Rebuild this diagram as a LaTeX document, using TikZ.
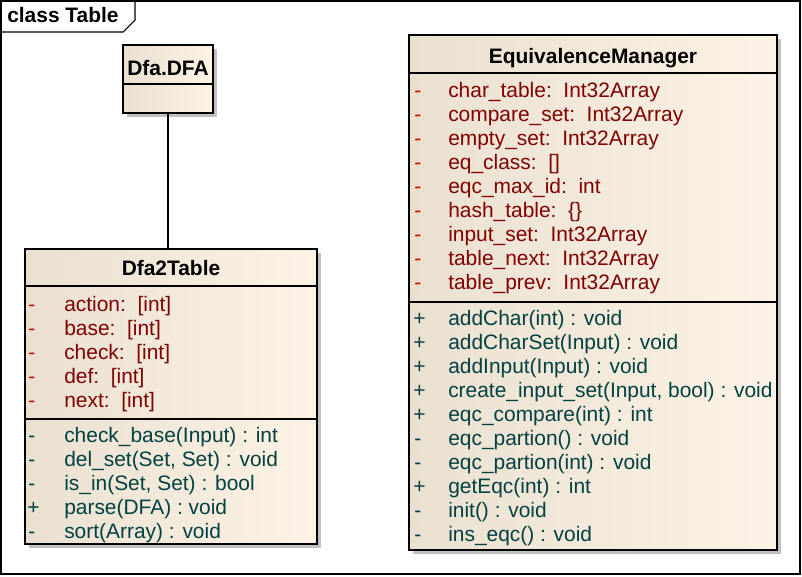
\documentclass[tikz,border=0pt]{standalone}
\usepackage{fontspec}
\setmainfont{Liberation Sans}
\usetikzlibrary{fit,shadows}
\definecolor{classleft}{RGB}{234,224,208}
\definecolor{classright}{RGB}{252,243,230}
\definecolor{boxshade}{RGB}{192,192,192}
\definecolor{attrtext}{RGB}{128,0,0}
\definecolor{attrvis}{RGB}{200,0,0}
\definecolor{optext}{RGB}{0,64,64}
\newcommand{\umlsize}{\fontsize{15.7}{18}\selectfont}

\tikzset{
  classbox/.style={draw, line width=0.8pt, inner sep=0pt, left color=classleft, right color=classright,
    drop shadow={shadow xshift=3pt, shadow yshift=-3pt, fill=boxshade, opacity=1}},
  classname/.style={anchor=base, inner sep=0pt, font=\umlsize\bfseries},
  visattr/.style={anchor=base west, inner sep=0pt, font=\umlsize, text=attrvis},
  attr/.style={anchor=base west, inner sep=0pt, font=\umlsize, text=attrtext},
  visop/.style={anchor=base west, inner sep=0pt, font=\umlsize, text=optext},
  op/.style={anchor=base west, inner sep=0pt, font=\umlsize, text=optext},
  sep/.style={line width=0.8pt}
}

\begin{document}
\begin{tikzpicture}[x=0.75pt,y=-0.75pt]
\useasboundingbox (0,0) rectangle (802,576);
% frame
\draw[line width=0.8pt] (1,1) rectangle (800,574);
\draw[line width=0.8pt] (1,32) -- (123,32) -- (135,20) -- (135,1);
\node[classname, anchor=base west] (frametitle) at (7,22) {class Table};

% Dfa.DFA
\node[classbox, fit={(123,45) (213,113)}] (dfa) {};
\draw[sep] (123,84) -- (213,84);
\node[classname] (dfaname) at (168,75) {Dfa.DFA};

% Dfa2Table
\node[classbox, fit={(25,249) (317,544)}] (dfatable) {};
\draw[sep] (25,286) -- (317,286);
\draw[sep] (25,419) -- (317,419);
\node[classname] (dfatablename) at (171,275) {Dfa2Table};
\node[visattr] (dtv1) at (28,311) {-}; \node[attr] (dta1) at (64,311) {action:\ \ [int]};
\node[visattr] (dtv2) at (28,335) {-}; \node[attr] (dta2) at (64,335) {base:\ \ [int]};
\node[visattr] (dtv3) at (28,359) {-}; \node[attr] (dta3) at (64,359) {check:\ \ [int]};
\node[visattr] (dtv4) at (28,383) {-}; \node[attr] (dta4) at (64,383) {def:\ \ [int]};
\node[visattr] (dtv5) at (28,407) {-}; \node[attr] (dta5) at (64,407) {next:\ \ [int]};
\node[visop] (dtw1) at (28,442) {-}; \node[op] (dto1) at (64,442) {check\_base(Input) : int};
\node[visop] (dtw2) at (28,466) {-}; \node[op] (dto2) at (64,466) {del\_set(Set, Set) : void};
\node[visop] (dtw3) at (28,490) {-}; \node[op] (dto3) at (64,490) {is\_in(Set, Set) : bool};
\node[visop] (dtw4) at (27,514) {+}; \node[op] (dto4) at (64,514) {parse(DFA) : void};
\node[visop] (dtw5) at (28,538) {-}; \node[op] (dto5) at (64,538) {sort(Array) : void};

% EquivalenceManager
\node[classbox, fit={(409,35) (777,550)}] (eqmgr) {};
\draw[sep] (409,73) -- (777,73);
\draw[sep] (409,302) -- (777,302);
\node[classname] (eqmgrname) at (593,63) {EquivalenceManager};
\node[visattr] (emv1) at (414,97) {-}; \node[attr] (ema1) at (448,97) {char\_table:\ \ Int32Array};
\node[visattr] (emv2) at (414,121) {-}; \node[attr] (ema2) at (448,121) {compare\_set:\ \ Int32Array};
\node[visattr] (emv3) at (414,145) {-}; \node[attr] (ema3) at (448,145) {empty\_set:\ \ Int32Array};
\node[visattr] (emv4) at (414,169) {-}; \node[attr] (ema4) at (448,169) {eq\_class:\ \ []};
\node[visattr] (emv5) at (414,193) {-}; \node[attr] (ema5) at (448,193) {eqc\_max\_id:\ \ int};
\node[visattr] (emv6) at (414,217) {-}; \node[attr] (ema6) at (448,217) {hash\_table:\ \ \{\}};
\node[visattr] (emv7) at (414,241) {-}; \node[attr] (ema7) at (448,241) {input\_set:\ \ Int32Array};
\node[visattr] (emv8) at (414,265) {-}; \node[attr] (ema8) at (448,265) {table\_next:\ \ Int32Array};
\node[visattr] (emv9) at (414,289) {-}; \node[attr] (ema9) at (448,289) {table\_prev:\ \ Int32Array};
\node[visop] (emw1) at (413,325) {+}; \node[op] (emo1) at (448,325) {addChar(int) : void};
\node[visop] (emw2) at (413,349) {+}; \node[op] (emo2) at (448,349) {addCharSet(Input) : void};
\node[visop] (emw3) at (413,373) {+}; \node[op] (emo3) at (448,373) {addInput(Input) : void};
\node[visop] (emw4) at (413,397) {+}; \node[op] (emo4) at (448,397) {create\_input\_set(Input, bool) : void};
\node[visop] (emw5) at (413,421) {+}; \node[op] (emo5) at (448,421) {eqc\_compare(int) : int};
\node[visop] (emw6) at (414,445) {-}; \node[op] (emo6) at (448,445) {eqc\_partion() : void};
\node[visop] (emw7) at (414,469) {-}; \node[op] (emo7) at (448,469) {eqc\_partion(int) : void};
\node[visop] (emw8) at (413,493) {+}; \node[op] (emo8) at (448,493) {getEqc(int) : int};
\node[visop] (emw9) at (414,517) {-}; \node[op] (emo9) at (448,517) {init() : void};
\node[visop] (emw10) at (414,541) {-}; \node[op] (emo10) at (448,541) {ins\_eqc() : void};

% association
\draw[line width=0.8pt] (dfa.south) -- (dfatable.north -| dfa.south);
\end{tikzpicture}
\end{document}
